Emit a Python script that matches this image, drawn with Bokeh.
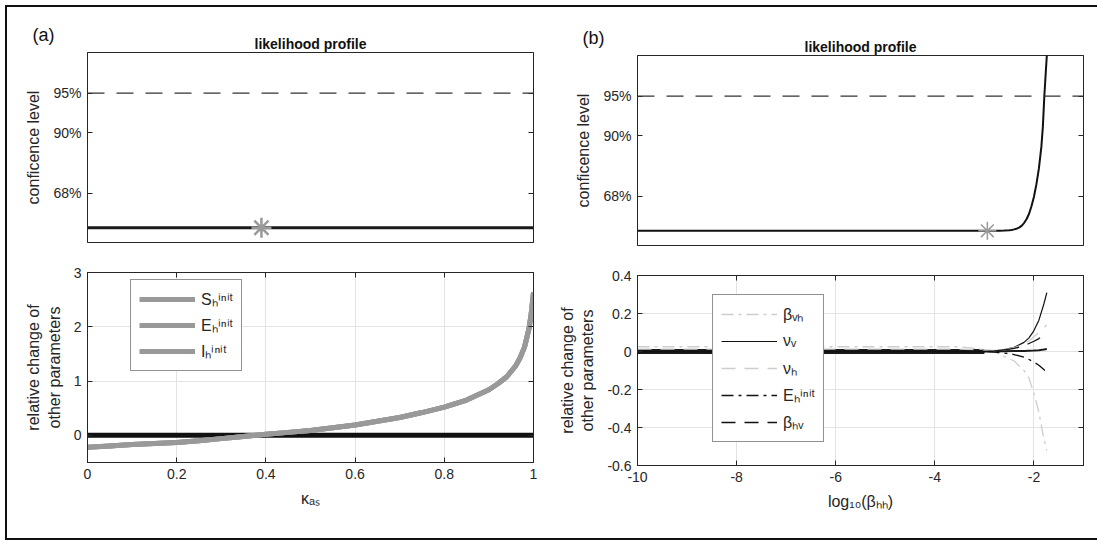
import math
from bokeh.plotting import figure
from bokeh.models import (LinearAxis, FixedTicker, Range1d, Span, Legend, LegendItem, Title)
from bokeh.layouts import row, column
from bokeh.embed import file_html
from bokeh.resources import INLINE

FONT = "Liberation Sans"
INK = "#262626"
GRAY = "#999999"
LIGHT = "#cdcdcd"
NAN = float("nan")

# ---------------- data ----------------
conf_levels = ["68%", "90%", "95%"]
conf_thresholds = [0.989, 2.706, 3.841]

# panel (a)
kappa = [0, 0.05, 0.1, 0.15, 0.2, 0.25, 0.3, 0.35, 0.4, 0.45, 0.5, 0.55, 0.6, 0.65,
         0.7, 0.75, 0.8, 0.85, 0.9, 0.92, 0.94, 0.96, 0.97, 0.98, 0.99, 0.995, 1.0]
kappa_profile = [0.0] * 27
kappa_mle = [0.39]
kappa_mle_profile = [0.0]
rel_Sh = [-0.22, -0.195, -0.17, -0.15, -0.13, -0.10, -0.06, -0.02, 0.02, 0.055, 0.09,
          0.14, 0.19, 0.26, 0.33, 0.42, 0.52, 0.65, 0.84, 0.95, 1.08, 1.28, 1.43, 1.63,
          1.97, 2.25, 2.63]
rel_Eh = list(rel_Sh)
rel_Ih = list(rel_Sh)
rel_other_a = [0.0] * 27
kappa_ticks = [0, 0.2, 0.4, 0.6, 0.8, 1]
kappa_tick_labels = ["0", "0.2", "0.4", "0.6", "0.8", "1"]
rel_a_ticks = [0, 1, 2, 3]
rel_a_tick_labels = ["0", "1", "2", "3"]

# panel (b)
logb = [-10, -9, -8, -7, -6, -5, -4, -3.5, -3.0, -2.94, -2.8, -2.7, -2.6, -2.5, -2.45,
        -2.4, -2.35, -2.3, -2.25, -2.2, -2.15, -2.1, -2.05, -2.0, -1.95, -1.9, -1.85,
        -1.82, -1.79, -1.76, -1.74]
logb_profile = [0, 0, 0, 0, 0, 0, 0, 0, 0, 0, 0.001, 0.003, 0.006, 0.015, 0.025, 0.04,
                0.06, 0.09, 0.14, 0.22, 0.33, 0.48, 0.7, 0.97, 1.33, 1.78, 2.4, 2.97,
                3.85, 4.55, 5.0]
logb_mle = [-2.94]
logb_mle_profile = [0.0]

logb_rel = [-10, -9, -8, -7, -6, -5, -4, -3.5, -3.0, -2.8, -2.6, -2.4, -2.2, -2.1,
            -2.0, -1.9, -1.8, -1.74]
rel_bvh = [0.025, 0.025, 0.025, 0.025, 0.025, 0.025, 0.025, 0.025, 0.01, 0.0, -0.025,
           -0.05, -0.1, -0.14, -0.22, -0.32, -0.46, -0.52]
rel_nuv = [0, 0, 0, 0, 0, 0, 0, 0, 0, 0.003, 0.01, 0.022, 0.048, 0.072, 0.11, 0.165,
           0.25, 0.31]
rel_nuh = [0.012, 0.012, 0.012, 0.012, 0.012, 0.012, 0.012, 0.012, 0.008, 0.006, 0.01,
           0.02, 0.038, 0.055, 0.078, 0.1, 0.125, 0.14]
rel_Eh_b = [0, 0, 0, 0, 0, 0, 0, 0, 0, -0.003, -0.008, -0.016, -0.03, -0.042, -0.056,
            -0.072, -0.095, -0.11]
rel_bhv = [0, 0, 0, 0, 0, 0, 0, 0, 0, 0.003, 0.008, 0.016, 0.03, 0.042, 0.054, 0.068,
           0.088, 0.10]
rel_band = [0, 0, 0, 0, 0, 0, 0, 0, 0, NAN, NAN, NAN, NAN, NAN, NAN, NAN, NAN, NAN]
rel_rest = [0, 0, 0, 0, 0, 0, 0, 0, 0, 0, 0.001, 0.002, 0.003, 0.004, 0.005, 0.007,
            0.01, 0.013]
logb_ticks = [-10, -8, -6, -4, -2]
logb_tick_labels = ["-10", "-8", "-6", "-4", "-2"]
rel_b_ticks = [-0.6, -0.4, -0.2, 0, 0.2, 0.4]
rel_b_tick_labels = ["-0.6", "-0.4", "-0.2", "0", "0.2", "0.4"]


# ---------------- helpers ----------------
def base_fig(w, h, ml, mr, mt, mb, xr, yr, top):
    p = figure(width=w, height=h, min_border_left=ml, min_border_right=mr,
               min_border_top=mt, min_border_bottom=mb,
               x_range=Range1d(*xr), y_range=Range1d(*yr),
               x_axis_location=None if top else "below",
               output_backend="svg", toolbar_location=None, tools="")
    p.outline_line_color = INK
    p.outline_line_width = 1
    p.background_fill_color = "white"
    p.border_fill_color = "white"
    if top:
        p.grid.visible = False
    else:
        p.grid.grid_line_color = "#e3e3e3"
        p.grid.grid_line_width = 1
    return p


def style_axis(ax, ticks, labels):
    ax.ticker = FixedTicker(ticks=ticks)
    ax.major_label_overrides = {t: l for t, l in zip(ticks, labels)}
    ax.major_tick_in = 5
    ax.major_tick_out = 0
    ax.minor_tick_line_color = None
    ax.axis_line_color = INK
    ax.major_tick_line_color = INK
    ax.major_label_text_font = FONT
    ax.major_label_text_font_size = "14px"
    ax.major_label_text_color = INK
    ax.major_label_standoff = 6
    ax.axis_label_text_font = FONT
    ax.axis_label_text_font_size = "16px"
    ax.axis_label_text_font_style = "normal"
    ax.axis_label_text_color = INK
    ax.axis_label_standoff = 8


def mirror_axis(p, ticks, side):
    ax = LinearAxis(ticker=FixedTicker(ticks=ticks),
                    major_label_overrides={t: "" for t in ticks},
                    major_tick_in=5, major_tick_out=0, minor_tick_line_color=None,
                    axis_line_color=INK, major_tick_line_color=INK,
                    major_label_standoff=0, major_label_text_font_size="1px")
    p.add_layout(ax, side)


def add_titles(p, letter):
    # panel letter: the plot's own title (outer row), pulled down beside the heading
    p.title.text = letter
    p.title.align = "left"
    p.title.offset = -55
    p.title.standoff = -24
    p.title.text_font = FONT
    p.title.text_font_size = "18px"
    p.title.text_font_style = "normal"
    p.title.text_color = "#111111"
    # heading, directly above the frame
    p.add_layout(Title(text="likelihood profile", align="center", standoff=2,
                       text_font=FONT, text_font_size="14px", text_font_style="bold",
                       text_color="#111111"), "above")


# geometry: left figures 536 wide (frame 87..533), right figures start at 543
# ---------------- (a) top ----------------
pa1 = base_fig(536, 250, 80, 10, 45, 15, (0, 1), (-0.42, 5.0), True)
pa1.line(kappa, kappa_profile, line_color="#1a1a1a", line_width=3)
pa1.scatter(kappa_mle, kappa_mle_profile, marker="asterisk", size=20, line_color=GRAY,
            line_width=2.5)
pa1.add_layout(Span(location=conf_thresholds[2], dimension="width", line_color="#333333",
                    line_dash="17 12", line_width=1.2))
style_axis(pa1.yaxis[0], conf_thresholds, conf_levels)
pa1.yaxis.axis_label = "conficence level"
mirror_axis(pa1, conf_thresholds, "right")
add_titles(pa1, "(a)")

# ---------------- (a) bottom ----------------
pa2 = base_fig(536, 281, 80, 10, 15, 76, (0, 1), (-0.5, 3), False)
pa2.line(kappa, rel_other_a, line_color="#111111", line_width=5)
rS = pa2.line(kappa, rel_Sh, line_color=GRAY, line_width=5)
rE = pa2.line(kappa, rel_Eh, line_color=GRAY, line_width=5)
rI = pa2.line(kappa, rel_Ih, line_color=GRAY, line_width=5)
style_axis(pa2.xaxis[0], kappa_ticks, kappa_tick_labels)
style_axis(pa2.yaxis[0], rel_a_ticks, rel_a_tick_labels)
pa2.xaxis.axis_label = "κₐₛ"
pa2.yaxis.axis_label = "relative change of\nother parameters"
mirror_axis(pa2, rel_a_ticks, "right")
mirror_axis(pa2, kappa_ticks, "above")
leg_a = Legend(items=[LegendItem(label="Sₕⁱⁿⁱᵗ", renderers=[rS]),
                      LegendItem(label="Eₕⁱⁿⁱᵗ", renderers=[rE]),
                      LegendItem(label="Iₕⁱⁿⁱᵗ", renderers=[rI])],
               location=(43, 91), orientation="vertical",
               border_line_color=INK, border_line_width=1,
               background_fill_color="white", background_fill_alpha=1,
               label_text_font=FONT, label_text_font_size="16px", label_text_color=INK,
               glyph_width=56, glyph_height=20, label_height=20, spacing=4,
               padding=8, margin=0, label_standoff=6)
pa2.add_layout(leg_a)

# ---------------- (b) top ----------------
pb1 = base_fig(554, 253, 94, 14, 48, 15, (-10, -1), (-0.42, 5.0), True)
pb1.line(logb, logb_profile, line_color="#111111", line_width=2)
pb1.scatter(logb_mle, logb_mle_profile, marker="asterisk", size=18, line_color=GRAY,
            line_width=1.5)
pb1.add_layout(Span(location=conf_thresholds[2], dimension="width", line_color="#333333",
                    line_dash="17 12", line_width=1.2))
style_axis(pb1.yaxis[0], conf_thresholds, conf_levels)
pb1.yaxis.axis_label = "conficence level"
mirror_axis(pb1, conf_thresholds, "right")
add_titles(pb1, "(b)")

# ---------------- (b) bottom ----------------
pb2 = base_fig(554, 278, 94, 14, 15, 73, (-10, -1), (-0.6, 0.4), False)
pb2.line(logb_rel, rel_band, line_color="#1a1a1a", line_width=5)
pb2.line(logb_rel, rel_rest, line_color="#1a1a1a", line_width=2)
r1 = pb2.line(logb_rel, rel_bvh, line_color=LIGHT, line_width=1.3, line_dash="12 5 3 5")
r2 = pb2.line(logb_rel, rel_nuv, line_color="#111111", line_width=1.2)
r3 = pb2.line(logb_rel, rel_nuh, line_color=LIGHT, line_width=1.3, line_dash="14 9")
r4 = pb2.line(logb_rel, rel_Eh_b, line_color="#111111", line_width=1.3, line_dash="12 5 3 5")
r5 = pb2.line(logb_rel, rel_bhv, line_color="#111111", line_width=1.3, line_dash="14 9")
style_axis(pb2.xaxis[0], logb_ticks, logb_tick_labels)
style_axis(pb2.yaxis[0], rel_b_ticks, rel_b_tick_labels)
pb2.xaxis.axis_label = "log₁₀(βₕₕ)"
pb2.yaxis.axis_label = "relative change of\nother parameters"
mirror_axis(pb2, rel_b_ticks, "right")
mirror_axis(pb2, logb_ticks, "above")
leg_b = Legend(items=[LegendItem(label="βᵥₕ", renderers=[r1]),
                      LegendItem(label="νᵥ", renderers=[r2]),
                      LegendItem(label="νₕ", renderers=[r3]),
                      LegendItem(label="Eₕⁱⁿⁱᵗ", renderers=[r4]),
                      LegendItem(label="βₕᵥ", renderers=[r5])],
               location=(75, 23), orientation="vertical",
               border_line_color=INK, border_line_width=1,
               background_fill_color="white", background_fill_alpha=1,
               label_text_font=FONT, label_text_font_size="16px", label_text_color=INK,
               glyph_width=56, glyph_height=22, label_height=22, spacing=5,
               padding=8, margin=0, label_standoff=6)
pb2.add_layout(leg_b)

layout = row(column(pa1, pa2, spacing=0), column(pb1, pb2, spacing=0), spacing=0,
             styles={"border-left": "2px solid #111", "border-top": "2px solid #111",
                     "border-bottom": "2px solid #111", "margin-left": "5px",
                     "margin-top": "5px"})

open("out.html", "w").write(file_html(layout, INLINE))
